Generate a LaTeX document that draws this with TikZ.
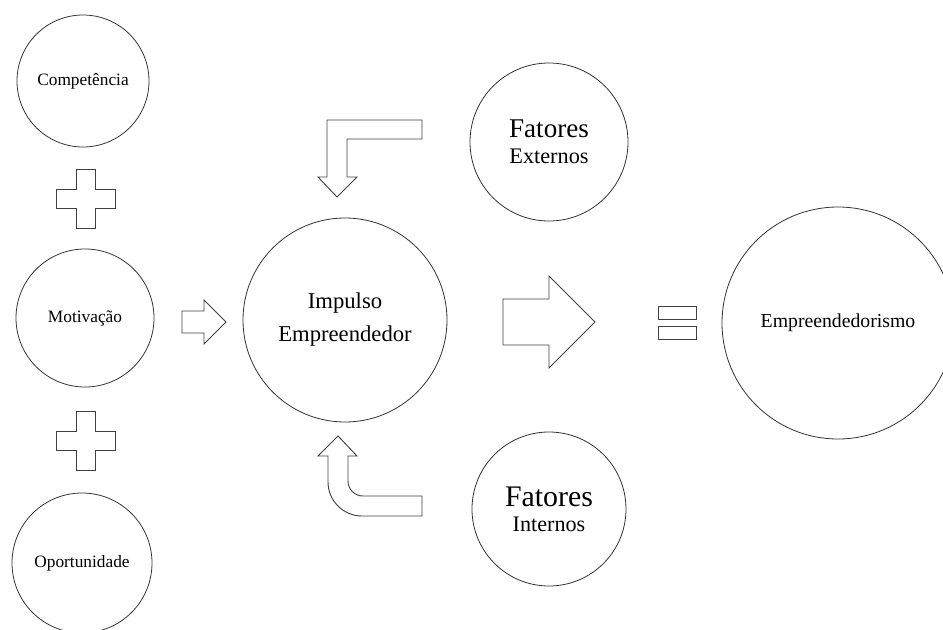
\documentclass[tikz,border=0pt]{standalone}
\usepackage{fontspec}
\setmainfont{Liberation Serif}
\tikzset{
  bolha/.style={draw=black!80, line width=0.6pt, circle, inner sep=0pt, align=center},
  contorno/.style={draw=black!75, line width=0.7pt, line join=miter}
}
\begin{document}
\begin{tikzpicture}[x=0.75pt, y=-0.75pt]
        \useasboundingbox (0,0) rectangle (943,629);
        \node [bolha, minimum size=99pt, font=\fontsize{13}{15}\selectfont] (0) at (83,81) {Competência};
        \node [bolha, minimum size=103.5pt, font=\fontsize{13}{15}\selectfont] (1) at (85,318) {Motivação};
        \node [bolha, minimum size=105pt, font=\fontsize{13}{15}\selectfont] (2) at (82,563) {Oportunidade};
        \node [bolha, minimum size=153pt, font=\fontsize{17}{24.75}\selectfont] (3) at (345,320) {Impulso\\Empreendedor};
        \node [bolha, minimum size=118.5pt, font=\fontsize{16.7}{19.5}\selectfont] (4) at (549,142) {{\fontsize{20.3}{19.5}\selectfont Fatores}\\Externos};
        \node [bolha, minimum size=115.5pt, font=\fontsize{16.6}{18.5}\selectfont] (5) at (549,509) {{\fontsize{22.4}{18.5}\selectfont Fatores}\\Internos};
        \node [bolha, minimum size=174pt, font=\fontsize{14.8}{18}\selectfont] (6) at (838,323) {Empreendedorismo};
        % sinais de mais
        \draw [contorno] (76,169) -- (95,169) -- (95,189) -- (115,189) -- (115,208) -- (95,208) -- (95,228) -- (76,228) -- (76,208) -- (56,208) -- (56,189) -- (76,189) -- cycle;
        \draw [contorno] (76,411) -- (95,411) -- (95,431) -- (115,431) -- (115,450) -- (95,450) -- (95,470) -- (76,470) -- (76,450) -- (56,450) -- (56,431) -- (76,431) -- cycle;
        % setas
        \draw [contorno] (182,311) -- (204,311) -- (204,300) -- (226,322) -- (204,344) -- (204,333) -- (182,333) -- cycle;
        \draw [contorno] (503,299) -- (549,299) -- (549,276) -- (595,322) -- (549,368) -- (549,345) -- (503,345) -- cycle;
        \draw [contorno] (422,120) -- (327,120) -- (327,177) -- (318,177) -- (337,197) -- (357,177) -- (347,177) -- (347,139) -- (422,139) -- cycle;
        \draw [contorno] (338,436) -- (357,456) -- (348,456) -- (348,481) .. controls (348,489.3) and (354.7,496) .. (363,496) -- (422,496) -- (422,516) -- (362,516) .. controls (343.3,516) and (328,500.7) .. (328,482) -- (328,456) -- (318,456) -- cycle;
        % igual
        \draw [contorno] (658,306) rectangle (696,319);
        \draw [contorno] (658,326) rectangle (696,339);
\end{tikzpicture}
\end{document}
